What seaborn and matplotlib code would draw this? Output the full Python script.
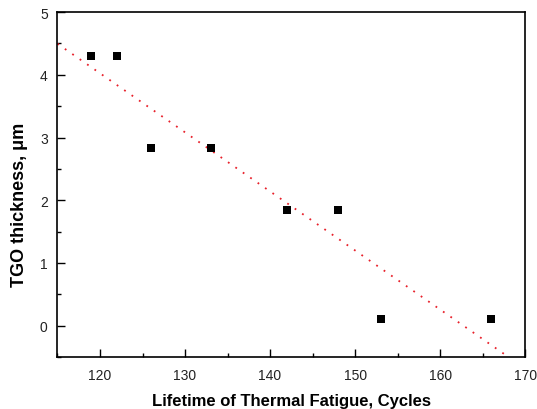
import numpy as np
import matplotlib
matplotlib.use("Agg")
import matplotlib.pyplot as plt
import seaborn as sns
from matplotlib.ticker import MultipleLocator

cycles = [119, 122, 126, 133, 142, 148, 153, 166]
tgo = [4.3, 4.3, 2.83, 2.83, 1.85, 1.85, 0.1, 0.1]
x_ticks = [120, 130, 140, 150, 160, 170]
y_ticks = [0, 1, 2, 3, 4, 5]

sns.set_style("ticks")
plt.rcParams['font.family'] = ['Liberation Sans', 'DejaVu Sans']

fig = plt.figure(figsize=(5.37, 4.10), dpi=100)
ax = fig.add_axes([0.107, 0.127, 0.871, 0.841])
ax.set_xlim(115, 170)
ax.set_ylim(-0.5, 5)

sns.scatterplot(x=cycles, y=tgo, marker='s', s=34, color='black', edgecolor='black', linewidth=0, ax=ax, zorder=3)

slope, intercept = np.polyfit(cycles, tgo, 1)
xs = np.linspace(115, 170, 200)
sns.lineplot(x=xs, y=slope * xs + intercept, color='#e8202a', linestyle=(0, (1, 4)), linewidth=1.3, ax=ax)

ax.set_xticks(x_ticks)
ax.set_yticks(y_ticks)
ax.xaxis.set_minor_locator(MultipleLocator(5))
ax.yaxis.set_minor_locator(MultipleLocator(0.5))
ax.tick_params(which='both', direction='in', top=False, right=False, labelsize=10, width=1.0, color='black', labelcolor='#222222')
ax.tick_params(axis='x', pad=8)
ax.tick_params(axis='y', pad=7)
ax.tick_params(which='major', length=5.5)
ax.tick_params(which='minor', length=3)
for s in ax.spines.values():
    s.set_visible(True)
    s.set_linewidth(1.2)
    s.set_color('black')

ax.set_xlabel('Lifetime of Thermal Fatigue, Cycles', fontsize=12, fontweight='bold', labelpad=8, color='black')
ax.set_ylabel('TGO thickness, μm', fontsize=13, fontweight='bold', color='black')
ax.yaxis.set_label_coords(-0.062, 0.443)

fig.savefig('out.png', dpi=100)
